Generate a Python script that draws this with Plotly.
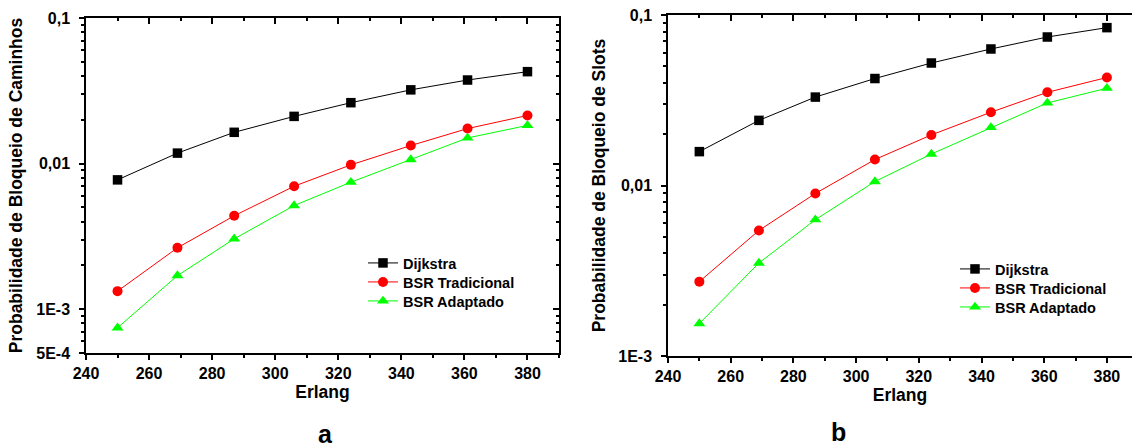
import math
import plotly.graph_objects as go

# ---- data ----
erlang = [250, 269, 287, 306, 324, 343, 361, 380]

# (a) Probabilidade de Bloqueio de Caminhos
a_dijkstra = [0.00773, 0.0118, 0.0164, 0.0211, 0.0262, 0.0321, 0.0375, 0.0428]
a_bsr_trad = [0.00133, 0.00264, 0.00438, 0.00699, 0.0098, 0.0133, 0.0174, 0.0214]
a_bsr_adap = [0.000745, 0.0017, 0.00304, 0.00515, 0.00745, 0.01065, 0.0150, 0.0183]

# (b) Probabilidade de Bloqueio de Slots
b_dijkstra = [0.0158, 0.0241, 0.0330, 0.0424, 0.0523, 0.0632, 0.0743, 0.0843]
b_bsr_trad = [0.00273, 0.00545, 0.00898, 0.0142, 0.0198, 0.0269, 0.0352, 0.0430]
b_bsr_adap = [0.00155, 0.00351, 0.0063, 0.01055, 0.0153, 0.0219, 0.0305, 0.0372]

series_names = ["Dijkstra", "BSR Tradicional", "BSR Adaptado"]
series_colors = ["#000000", "#ff0000", "#00ff00"]
series_symbols = ["square", "circle", "triangle-up"]
series_sizes = [9.5, 10, 10.5]

x_ticks = [240, 260, 280, 300, 320, 340, 360, 380]
a_yticks = [5e-4, 1e-3, 1e-2, 1e-1]
a_yticktext = ["5E-4", "1E-3", "0,01", "0,1"]
b_yticks = [1e-3, 1e-2, 1e-1]
b_yticktext = ["1E-3", "0,01", "0,1"]

FONT = "Liberation Sans, Arial, sans-serif"
W, H = 1132, 448


def minor_log(lo_exp, hi_exp):
    vals = []
    for e in range(lo_exp, hi_exp):
        for m in range(2, 10):
            vals.append(m * 10 ** e)
    return vals


a_minor = [v for v in minor_log(-4, -1) if v > 5e-4]
b_minor = minor_log(-3, -1)

# legend rows (pixel centre y) and legend left x for each panel
a_leg_x, a_leg_rows = 363, [263, 282, 301]
b_leg_x, b_leg_rows = 955, [269, 288, 307]

fig = go.Figure()

for i, (vals_a, vals_b) in enumerate(zip([a_dijkstra, a_bsr_trad, a_bsr_adap],
                                          [b_dijkstra, b_bsr_trad, b_bsr_adap])):
    la = "legend" if i == 0 else f"legend{i + 1}"
    lb = f"legend{i + 4}"
    fig.add_trace(go.Scatter(
        x=erlang, y=vals_a, name=series_names[i], mode="lines+markers",
        line=dict(color=series_colors[i], width=1),
        marker=dict(color=series_colors[i], symbol=series_symbols[i], size=series_sizes[i]),
        xaxis="x", yaxis="y", legend=la))
    fig.add_trace(go.Scatter(
        x=erlang, y=vals_b, name=series_names[i], mode="lines+markers",
        line=dict(color=series_colors[i], width=1),
        marker=dict(color=series_colors[i], symbol=series_symbols[i], size=series_sizes[i]),
        xaxis="x2", yaxis="y2", legend=lb))

# empty traces so the mirrored (inside-tick) frame axes exist
for xa, ya in [("x3", "y3"), ("x4", "y4")]:
    fig.add_trace(go.Scatter(x=[], y=[], xaxis=xa, yaxis=ya, showlegend=False, hoverinfo="skip"))

tickfont = dict(family=FONT, size=16, color="black", weight="bold")
titlefont = dict(family=FONT, size=17.5, color="black", weight="bold")
legfont = dict(family=FONT, size=14.5, color="black", weight="bold")

A_XDOM = [86 / W, 559 / W]
A_YDOM = [1 - 353 / H, 1 - 18 / H]
B_XDOM = [668 / W, 1.0]
B_YDOM = [1 - 356 / H, 1 - 15 / H]
A_XR = [240, 390]
B_XR = [240, 388]
A_YR = [math.log10(5e-4), -1]
B_YR = [-3, -1]


def xaxis_main(dom, rng, anchor):
    return dict(domain=dom, range=rng, anchor=anchor, tickvals=x_ticks, automargin=False,
                ticks="outside", ticklen=5, tickwidth=1.5, tickcolor="black",
                minor=dict(dtick=10, ticks="outside", ticklen=3, tickwidth=1.5, tickcolor="black"),
                showline=True, linecolor="black", linewidth=1.5, showgrid=False, zeroline=False,
                tickfont=tickfont, ticklabelstandoff=0,
                title=dict(text="Erlang", font=titlefont, standoff=3))


def yaxis_main(dom, rng, anchor, tv, tt, minor, title, standoff):
    return dict(domain=dom, range=rng, anchor=anchor, type="log", tickvals=tv, ticktext=tt,
                automargin=False,
                ticks="outside", ticklen=5, tickwidth=1.5, tickcolor="black",
                minor=dict(tickvals=minor, ticks="outside", ticklen=3, tickwidth=1.5, tickcolor="black"),
                showline=True, linecolor="black", linewidth=1.5, showgrid=False, zeroline=False,
                tickfont=tickfont, ticklabelstandoff=6,
                title=dict(text=title, font=titlefont, standoff=standoff))


def xaxis_top(dom, rng, anchor, overl):
    return dict(domain=dom, range=rng, anchor=anchor, overlaying=overl, side="top", automargin=False,
                tickvals=x_ticks, ticks="inside", ticklen=6, tickwidth=1.5, tickcolor="black",
                minor=dict(dtick=10, ticks="inside", ticklen=3, tickwidth=1.5, tickcolor="black"),
                showticklabels=False, showline=True, linecolor="black", linewidth=1.5,
                showgrid=False, zeroline=False)


def yaxis_right(dom, rng, anchor, overl, tv, minor, show_line=True):
    t = "inside" if show_line else ""
    return dict(domain=dom, range=rng, anchor=anchor, overlaying=overl, side="right", type="log",
                automargin=False,
                tickvals=tv, ticks=t, ticklen=6, tickwidth=1.5, tickcolor="black",
                minor=dict(tickvals=minor, ticks=t, ticklen=3, tickwidth=1.5, tickcolor="black"),
                showticklabels=False, showline=show_line, linecolor="black", linewidth=1.5,
                showgrid=False, zeroline=False)


layout = dict(
    width=W, height=H, autosize=False,
    margin=dict(l=0, r=0, t=0, b=0, autoexpand=False),
    paper_bgcolor="white", plot_bgcolor="white",
    font=dict(family=FONT, color="black"),
    xaxis=xaxis_main(A_XDOM, A_XR, "y"),
    yaxis=yaxis_main(A_YDOM, A_YR, "x", a_yticks, a_yticktext, a_minor,
                     "Probabilidade de Bloqueio de Caminhos", 9),
    xaxis2=xaxis_main(B_XDOM, B_XR, "y2"),
    yaxis2=yaxis_main(B_YDOM, B_YR, "x2", b_yticks, b_yticktext, b_minor,
                      "Probabilidade de Bloqueio de Slots", 8),
    xaxis3=xaxis_top(A_XDOM, A_XR, "y3", "x"),
    yaxis3=yaxis_right(A_YDOM, A_YR, "x3", "y", a_yticks, a_minor),
    xaxis4=xaxis_top(B_XDOM, B_XR, "y4", "x2"),
    yaxis4=yaxis_right(B_YDOM, B_YR, "x4", "y2", b_yticks, b_minor, show_line=False),
    annotations=[
        dict(text="a", x=(A_XDOM[0] + A_XDOM[1]) / 2 + 0.003, y=1 - 434 / H, xref="paper", yref="paper",
             xanchor="center", yanchor="middle",
             showarrow=False, font=dict(family=FONT, size=25, color="black", weight="bold")),
        dict(text="b", x=838 / W, y=1 - 432 / H, xref="paper", yref="paper",
             xanchor="center", yanchor="middle",
             showarrow=False, font=dict(family=FONT, size=25, color="black", weight="bold")),
    ],
    showlegend=True,
)

for i in range(3):
    ka = "legend" if i == 0 else f"legend{i + 1}"
    kb = f"legend{i + 4}"
    layout[ka] = dict(x=a_leg_x / W, y=1 - a_leg_rows[i] / H, xanchor="left", yanchor="middle",
                      bgcolor="rgba(0,0,0,0)", borderwidth=0, font=legfont)
    layout[kb] = dict(x=b_leg_x / W, y=1 - b_leg_rows[i] / H, xanchor="left", yanchor="middle",
                      bgcolor="rgba(0,0,0,0)", borderwidth=0, font=legfont)

fig.update_layout(**layout)
fig.write_html(
    "out.html",
    config={"displayModeBar": False},
    post_script="document.body.style.margin='0px';document.documentElement.style.overflow='hidden';document.body.style.overflow='hidden';",
)
